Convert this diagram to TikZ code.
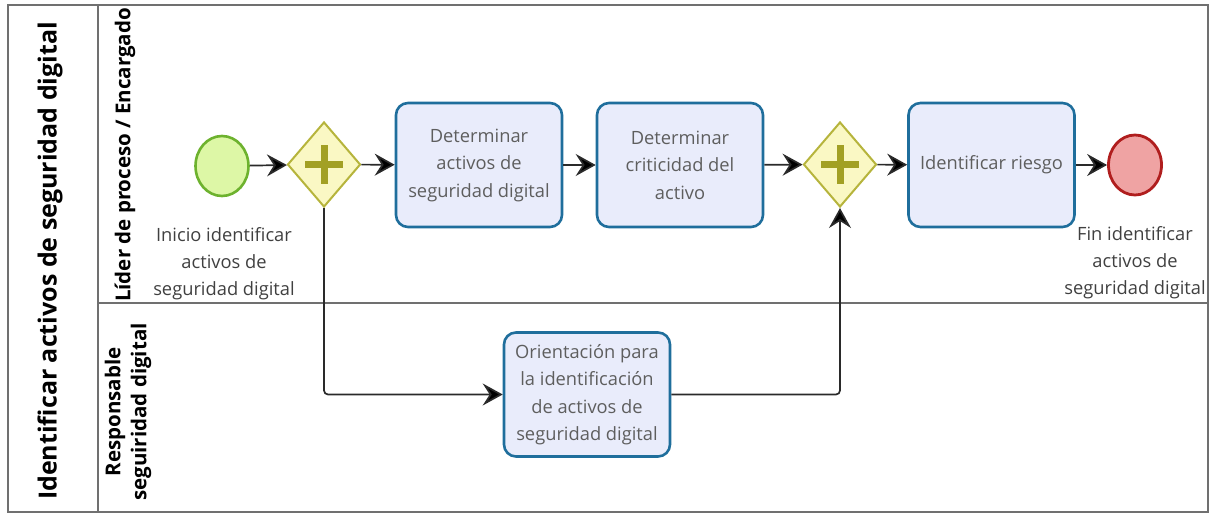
\documentclass[tikz,border=0pt]{standalone}
\usepackage{fontspec}
\setmainfont{Open Sans}
\usetikzlibrary{shapes.geometric,arrows.meta}
\definecolor{taskfill}{HTML}{E9ECFB}
\definecolor{taskdraw}{HTML}{1F6E9C}
\definecolor{tasktext}{HTML}{5E5E5E}
\definecolor{gwfill}{HTML}{FAF8C4}
\definecolor{gwdraw}{HTML}{B6B43C}
\definecolor{gwplus}{HTML}{A2A024}
\definecolor{startfill}{HTML}{DDF7A6}
\definecolor{startdraw}{HTML}{6DB22E}
\definecolor{endfill}{HTML}{EFA3A3}
\definecolor{enddraw}{HTML}{B01E1E}
\definecolor{poolline}{HTML}{707070}
\definecolor{flowline}{HTML}{2A2A2A}
\definecolor{labeltext}{HTML}{404040}
\begin{document}
\begin{tikzpicture}[x=1pt,y=-1pt,
  task/.style={draw=taskdraw, fill=taskfill, line width=2.6pt, rounded corners=12pt,
    minimum width=166pt, minimum height=124pt, align=center, text=tasktext,
    font=\fontsize{18.3}{27.5}\selectfont, inner sep=0pt},
  gateway/.style={diamond, draw=gwdraw, fill=gwfill, line width=2pt,
    minimum width=73pt, minimum height=85pt, inner sep=0pt},
  plusbar/.style={draw=gwplus, line width=7pt},
  startev/.style={ellipse, draw=startdraw, fill=startfill, line width=2.6pt,
    minimum width=53pt, minimum height=60pt, inner sep=0pt},
  endev/.style={ellipse, draw=enddraw, fill=endfill, line width=2.8pt,
    minimum width=53pt, minimum height=60pt, inner sep=0pt},
  evlabel/.style={align=center, text=labeltext, font=\fontsize{18.3}{27}\selectfont, inner sep=0pt},
  flow/.style={draw=flowline, line width=1.7pt, -{Stealth[length=20pt,width=22pt,inset=7pt,fill=black]}},
  pool/.style={draw=poolline, line width=1.5pt},
  lanelabel/.style={rotate=90, align=center, font=\bfseries\fontsize{20.5}{26}\selectfont, inner sep=0pt}
]
\useasboundingbox (0,0) rectangle (1210,516);
% pool frame
\draw[pool] (8,5) rectangle (1208,512);
\draw[pool] (98,5) -- (98,512);
\draw[pool] (98,303) -- (1208,303);
\node[rotate=90, font=\bfseries\fontsize{25}{28}\selectfont, inner sep=0pt] (pooltitle) at (50,261) {Identificar activos de seguridad digital};
\node[lanelabel] (lane1) at (125,155) {Líder de proceso / Encargado};
\node[lanelabel] (lane2) at (128,412) {Responsable\\seguiridad digital};
% nodes
\node[startev] (s) at (222,166) {};
\node[gateway] (g1) at (324,164.5) {};
\node[task] (t1) at (479,165) {Determinar\\activos de\\seguridad digital};
\node[task] (t2) at (680,165) {Determinar\\criticidad del\\activo};
\node[gateway] (g2) at (840,164.5) {};
\node[task] (t3) at (991.5,165) {Identificar riesgo};
\node[endev] (e) at (1135,165) {};
\node[task] (t4) at (587,394.5) {Orientación para\\la identificación\\de activos de\\seguridad digital};
\node[evlabel] (sl) at (224,264) {Inicio identificar\\activos de\\seguridad digital};
\node[evlabel] (el) at (1135,263) {Fin identificar\\activos de\\seguridad digital};
% plus signs
\foreach \g in {g1,g2}{
  \draw[plusbar] ([xshift=-19pt]\g.center) -- ([xshift=19pt]\g.center);
  \draw[plusbar] ([yshift=-19pt]\g.center) -- ([yshift=19pt]\g.center);
}
% flows
\draw[flow] (s) -- (g1);
\draw[flow] (g1) -- (t1);
\draw[flow] (t1) -- (t2);
\draw[flow] (t2) -- (g2);
\draw[flow] (g2) -- (t3);
\draw[flow] (t3) -- (e);
\draw[flow, rounded corners=4pt] (g1.south) |- (t4.west);
\draw[flow, rounded corners=4pt] (t4.east) -| (g2.south);
\end{tikzpicture}
\end{document}
